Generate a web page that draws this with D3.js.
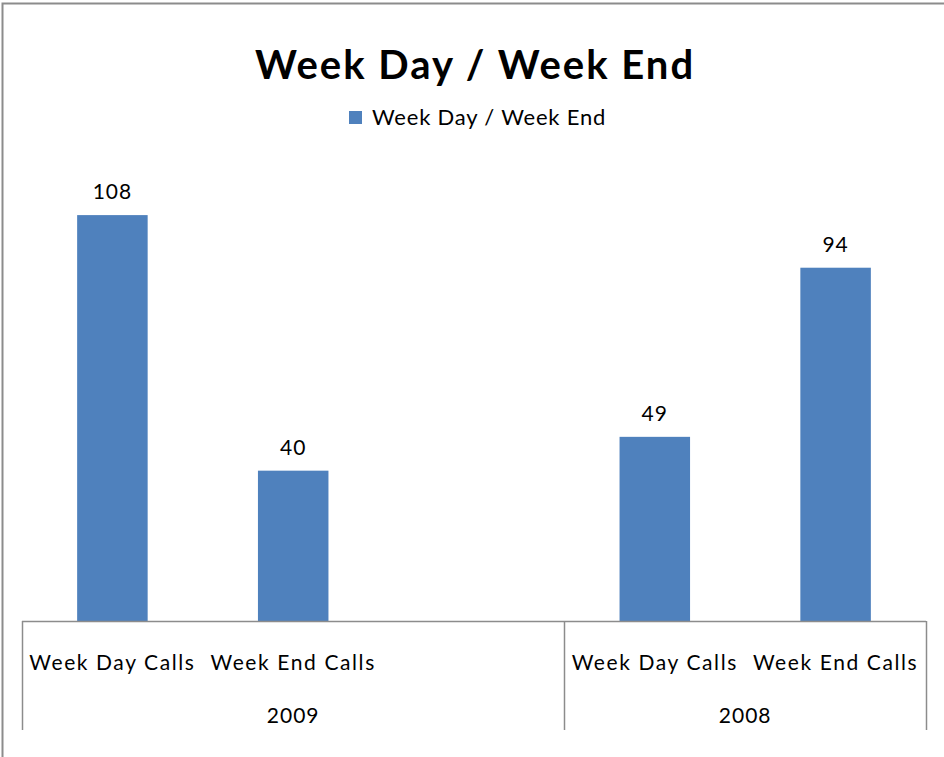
<!DOCTYPE html>
<html>
<head>
<meta charset="utf-8">
<script src="https://cdn.jsdelivr.net/npm/d3@7"></script>
<style>
  html, body { margin: 0; padding: 0; background: #fff; }
  svg { display: block; }
</style>
</head>
<body>
<div id="chart"></div>
<script>
// chart data
const categories = ["Week Day Calls", "Week End Calls", "", "Week Day Calls", "Week End Calls"];
const groups = ["2009", "2009", "2009", "2008", "2008"];
const values = [108, 40, null, 49, 94];
const seriesName = "Week Day / Week End";
const chartTitle = "Week Day / Week End";

const width = 944, height = 757;
const font = "Lato, 'Open Sans', sans-serif";
const barColor = "#4f81bd";

const svg = d3.select("#chart").append("svg")
    .attr("width", width)
    .attr("height", height);

// outer frame (runs off the right/bottom of the picture)
svg.append("rect")
    .attr("x", 2.5).attr("y", 3.5)
    .attr("width", 980).attr("height", 800)
    .attr("fill", "none")
    .attr("stroke", "#8c8c8c")
    .attr("stroke-width", 2);

const plot = { left: 22, right: 926, top: 170, bottom: 621 };

const x = d3.scaleBand()
    .domain(d3.range(categories.length))
    .range([plot.left, plot.right])
    .paddingInner(0.61)
    .paddingOuter(0.305);

const y = d3.scaleLinear()
    .domain([0, 120])
    .range([plot.bottom, plot.top]);

// title
svg.append("text")
    .attr("x", 475).attr("y", 79)
    .attr("text-anchor", "middle")
    .attr("font-family", font)
    .attr("font-weight", "bold")
    .attr("font-size", 40)
    .attr("letter-spacing", 2)
    .text(chartTitle);

// legend
svg.append("rect")
    .attr("x", 349).attr("y", 111)
    .attr("width", 13).attr("height", 13)
    .attr("fill", barColor);
svg.append("text")
    .attr("x", 372).attr("y", 125)
    .attr("font-family", font)
    .attr("font-size", 22)
    .attr("letter-spacing", 0.8)
    .text(seriesName);

// bars
const data = categories.map((c, i) => ({ i, c, g: groups[i], v: values[i] }))
    .filter(d => d.v != null);

svg.append("g")
    .selectAll("rect")
    .data(data)
    .join("rect")
    .attr("x", d => x(d.i))
    .attr("y", d => y(d.v))
    .attr("width", x.bandwidth())
    .attr("height", d => y(0) - y(d.v))
    .attr("fill", barColor);

svg.append("g")
    .selectAll("text")
    .data(data)
    .join("text")
    .attr("x", d => x(d.i) + x.bandwidth() / 2)
    .attr("y", d => y(d.v) - 16)
    .attr("text-anchor", "middle")
    .attr("font-family", font)
    .attr("font-size", 21)
    .attr("letter-spacing", 1)
    .text(d => d.v);

// category axis (two levels)
const axisColor = "#8c8c8c";
const step = x.step();
const ax = svg.append("g");

ax.append("line")
    .attr("x1", plot.left).attr("x2", plot.right)
    .attr("y1", plot.bottom + 0.5).attr("y2", plot.bottom + 0.5)
    .attr("stroke", axisColor).attr("stroke-width", 1.5);

// group boundaries
const groupNames = Array.from(new Set(groups));
const groupSpans = groupNames.map(g => {
    const idx = groups.map((v, i) => v === g ? i : -1).filter(i => i >= 0);
    const x0 = x(idx[0]) - x.paddingInner() * step / 2;
    const x1 = x(idx[idx.length - 1]) + x.bandwidth() + x.paddingInner() * step / 2;
    return { g, x0, x1 };
});

const edges = [plot.left].concat(groupSpans.map(s => Math.min(s.x1, plot.right)));
ax.selectAll("line.sep")
    .data(edges)
    .join("line")
    .attr("class", "sep")
    .attr("x1", d => Math.round(d) + 0.5).attr("x2", d => Math.round(d) + 0.5)
    .attr("y1", plot.bottom).attr("y2", 730)
    .attr("stroke", axisColor).attr("stroke-width", 1.5);

ax.selectAll("text.cat")
    .data(categories.map((c, i) => ({ c, i })).filter(d => d.c))
    .join("text")
    .attr("class", "cat")
    .attr("x", d => x(d.i) + x.bandwidth() / 2)
    .attr("y", 670)
    .attr("text-anchor", "middle")
    .attr("font-family", font)
    .attr("font-size", 21)
    .attr("letter-spacing", 1.6)
    .text(d => d.c);

ax.selectAll("text.grp")
    .data(groupSpans)
    .join("text")
    .attr("class", "grp")
    .attr("x", d => (Math.max(d.x0, plot.left) + Math.min(d.x1, plot.right)) / 2)
    .attr("y", 723)
    .attr("text-anchor", "middle")
    .attr("font-family", font)
    .attr("font-size", 21)
    .attr("letter-spacing", 1)
    .text(d => d.g);
</script>
</body>
</html>
